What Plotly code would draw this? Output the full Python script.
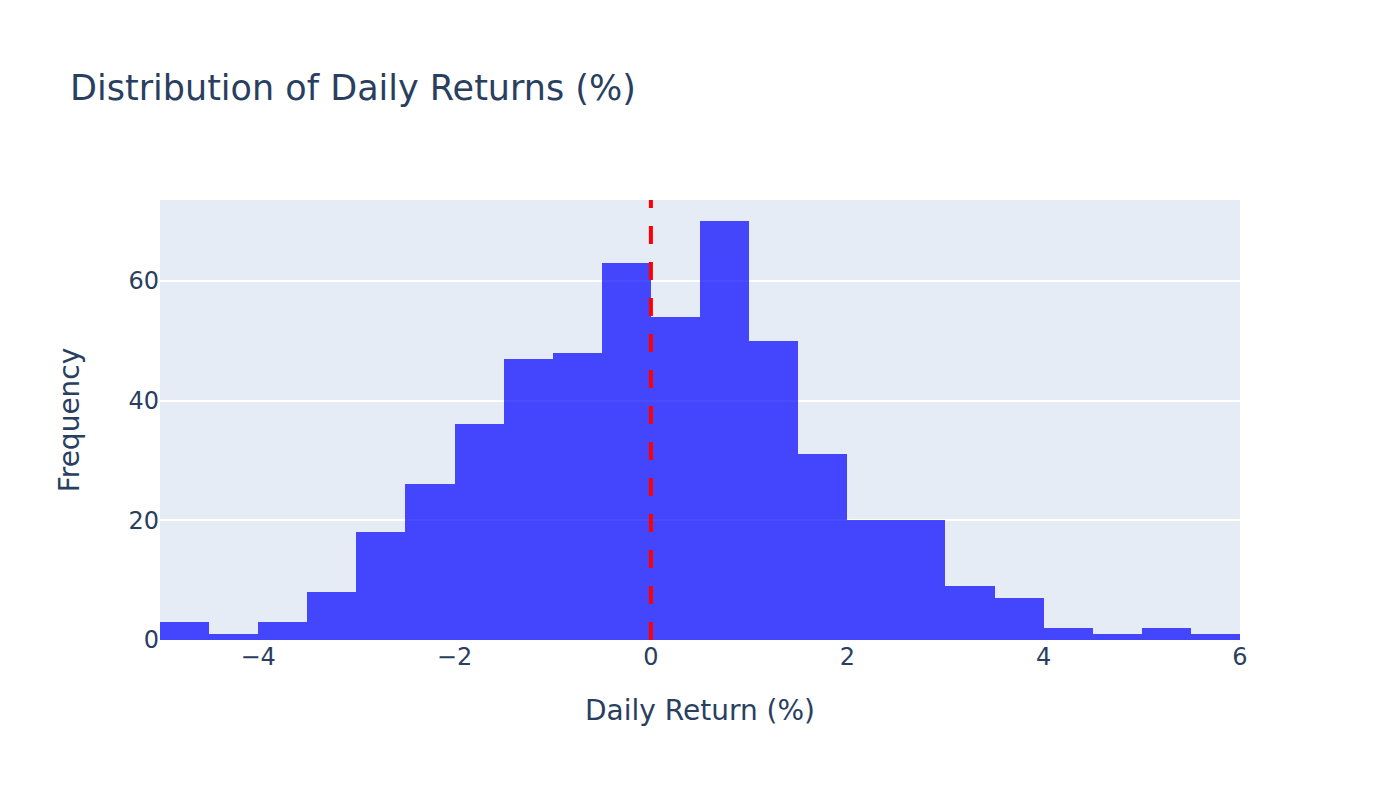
import plotly.graph_objects as go

bin_starts = [-5.0, -4.5, -4.0, -3.5, -3.0, -2.5, -2.0, -1.5, -1.0, -0.5, 0.0,
              0.5, 1.0, 1.5, 2.0, 2.5, 3.0, 3.5, 4.0, 4.5, 5.0, 5.5]
counts = [3, 1, 3, 8, 18, 26, 36, 47, 48, 63, 54,
          70, 50, 31, 20, 20, 9, 7, 2, 1, 2, 1]
bin_width = 0.5
x_ticks = [-4, -2, 0, 2, 4, 6]
y_ticks = [0, 20, 40, 60]

centers = [b + bin_width / 2 for b in bin_starts]

fig = go.Figure()
fig.add_trace(go.Bar(
    x=centers, y=counts, width=bin_width,
    marker=dict(color="blue", line=dict(width=0)),
    opacity=0.7,
    showlegend=False,
))
fig.add_vline(x=0, line=dict(color="red", width=4, dash="18px,18px"))

fig.update_layout(
    width=1384, height=784,
    template="plotly",
    margin=dict(l=152, r=152, t=192, b=152),
    font=dict(family="DejaVu Sans", size=24, color="#2a3f5f"),
    title=dict(text="Distribution of Daily Returns (%)", x=0.0448, xanchor="left",
               y=0.898, yanchor="middle", font=dict(size=35)),
    bargap=0,
    xaxis=dict(title=dict(text="Daily Return (%)", font=dict(size=28), standoff=30),
               range=[-5, 6], tickvals=x_ticks, zeroline=False, showgrid=False,
               tickfont=dict(size=24)),
    yaxis=dict(title=dict(text="Frequency", font=dict(size=28), standoff=40),
               range=[0, 73.5], tickvals=y_ticks, zeroline=False,
               gridwidth=2, tickfont=dict(size=24)),
)

fig.write_html("out.html")
